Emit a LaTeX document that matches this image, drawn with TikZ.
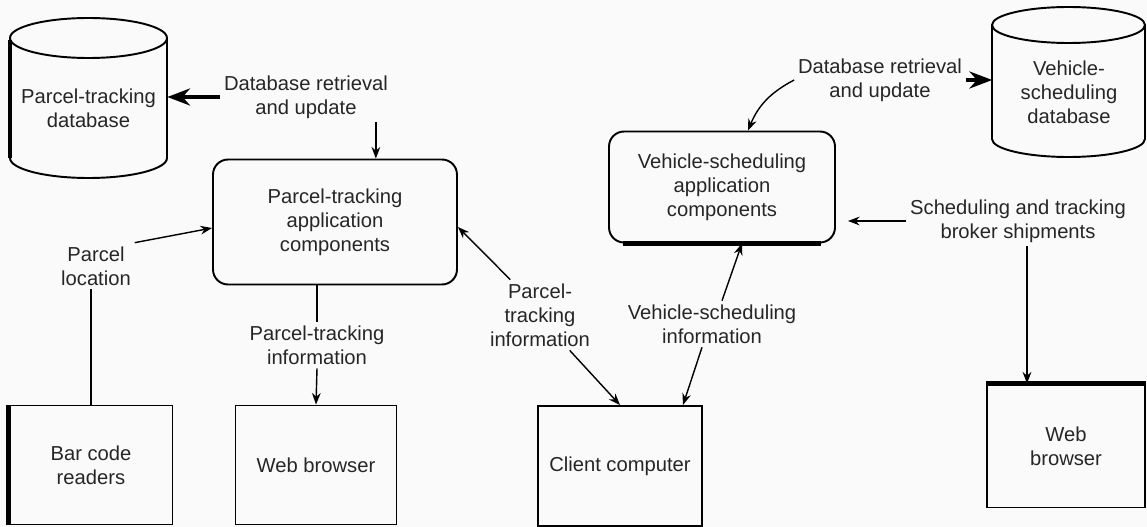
\documentclass[tikz,border=0pt]{standalone}
\usepackage{fontspec}
\setmainfont{Liberation Sans}
\usetikzlibrary{arrows.meta}

\begin{document}
\begin{tikzpicture}[x=0.02cm,y=-0.02cm,>=Stealth,
		font=\fontsize{11.5}{13.7}\selectfont,
		lbl/.style={align=center,inner sep=2pt,text=black!85},
		dbase/.style={align=center,inner sep=0pt,text=black!85},
		dbline/.style={line width=1.1pt},
		appbox/.style={draw,line width=1.1pt,rounded corners=0.3cm,align=center,text=black!85},
		endbox/.style={draw,line width=1.1pt,align=center,text=black!85}]
		\fill[black!2] (0,0) rectangle (1147,527);
		\useasboundingbox (0,0) rectangle (1147,527);
		
		% databases
		\draw[dbline] (10,38) -- (10,158) arc[start angle=180,end angle=360,x radius=1.57cm,y radius=0.4cm] -- (167,38);
		\draw[dbline] (88.5,38) ellipse[x radius=1.57cm,y radius=0.4cm];
		\draw[line width=2.5pt] (10,40) -- (10,158);
		\draw[dbline] (992,25) -- (992,139) arc[start angle=180,end angle=360,x radius=1.53cm,y radius=0.36cm] -- (1145,25);
		\draw[dbline] (1068.5,25) ellipse[x radius=1.53cm,y radius=0.36cm];
		
		\node[dbase,minimum width=3.14cm](pdb)at(88.5,108) {Parcel-tracking\\database};
		\node[dbase,minimum width=3.06cm](vdb)at(1069,92) {Vehicle-\\scheduling\\database};
		\node[appbox,minimum width=4.88cm,minimum height=2.5cm](papp)at(335,222) {Parcel-tracking\\application\\components};
		\node[appbox,minimum width=4.52cm,minimum height=2.22cm](vapp)at(722,187) {Vehicle-scheduling\\application\\components};
		\node[endbox,minimum width=3.26cm,minimum height=2.38cm](bcr)at(91,465) {Bar code\\readers};
		\node[endbox,minimum width=3.22cm,minimum height=2.38cm](pweb)at(316,465) {Web browser};
		\node[endbox,minimum width=3.28cm,minimum height=2.4cm](client)at(620,466) {Client computer};
		\node[endbox,minimum width=3.16cm,minimum height=2.46cm](vweb)at(1066,446) {Web\\browser};
		
		\node[lbl](lpdb)at(306,97) {Database retrieval\\and update};
		\node[lbl](lploc)at(96,266) {Parcel\\location};
		\node[lbl](lpinfo)at(317,345) {Parcel-tracking\\information};
		\node[lbl](lpinfo2)at(540,315) {Parcel-\\tracking\\information};
		\node[lbl](lvinfo)at(712,324) {Vehicle-scheduling\\information};
		\node[lbl](lvdb)at(880,80) {Database retrieval\\and update};
		\node[lbl](lsched)at(1018,221) {Scheduling and tracking\\broker shipments};
		
		\draw[line width=2.2pt,->](lpdb.west) -- (lpdb.west -| pdb.east);
		\draw[thick,->]([xshift=-0.32cm]lpdb.south east) -- ([xshift=-0.32cm]lpdb.south east |- papp.north);
		\draw[thick,->](lploc.north east) -- ([yshift=-0.12cm]papp.west);
		\draw[thick](lploc.south -| bcr.north) -- (bcr.north);
		\draw[thick](papp.south -| lpinfo.north) -- (lpinfo.north);
		\draw[thick,->](lpinfo.south) -- (pweb.north);
		\draw[thick,->](lpinfo2.130) -- ([yshift=-0.1cm]papp.east);
		\draw[thick,->](lpinfo2.-50) -- (client.north);
		\draw[thick,->]([xshift=0.2cm]lvinfo.north) -- ([xshift=0.4cm]vapp.south);
		\draw[thick,->]([xshift=-0.2cm]lvinfo.south) -- ([xshift=1.26cm]client.north);
		\draw[thick,->](lvdb.west) to[bend right=20] ([xshift=0.52cm]vapp.north);
		\draw[line width=2.2pt,->](lvdb.east) -- (lvdb.east -| vdb.west);
		\draw[thick,->](lsched.west) -- ([xshift=0.24cm]vapp.east |- lsched.west);
		\draw[thick,->]([xshift=0.18cm]lsched.south) -- ([xshift=0.18cm]lsched.south |- vweb.north);
		
		% heavier edges
		\draw[line width=2.5pt](bcr.north west) -- (bcr.south west);
		\draw[line width=2.5pt](vweb.north west) -- (vweb.north east);
		\draw[line width=2.5pt]([xshift=0.3cm]vapp.south west) -- ([xshift=-0.3cm]vapp.south east);
	\end{tikzpicture}
\end{document}
